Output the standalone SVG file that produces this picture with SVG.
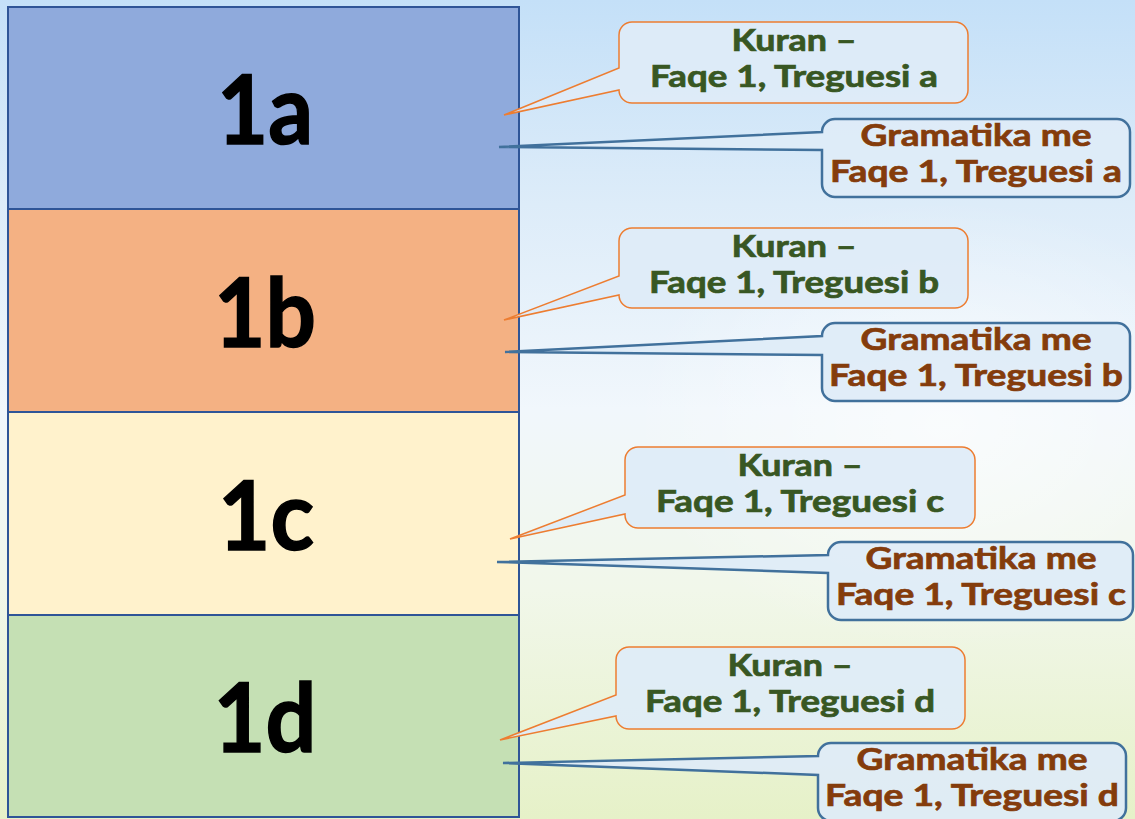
<svg xmlns="http://www.w3.org/2000/svg" width="1135" height="819" viewBox="0 0 1135 819">
<defs>
<linearGradient id="bg" x1="0" y1="0" x2="0" y2="1">
<stop offset="0" stop-color="#C4E0F8"/>
<stop offset="0.25" stop-color="#DDECF9"/>
<stop offset="0.5" stop-color="#F1F7FC"/>
<stop offset="0.72" stop-color="#F1F7EA"/>
<stop offset="1" stop-color="#E6F1C8"/>
</linearGradient>
<radialGradient id="glow" cx="0.7" cy="0.5" r="0.5">
<stop offset="0" stop-color="#FFFFFF" stop-opacity="0.6"/>
<stop offset="1" stop-color="#FFFFFF" stop-opacity="0"/>
</radialGradient>
</defs>
<style>
.sec{stroke:#2F5597;stroke-width:2}
.big{font-family:Lato,"Liberation Sans",Arial,sans-serif;font-weight:bold;font-size:96px;fill:#000;stroke:#000;stroke-width:1.5;text-anchor:middle}
.kc{fill:#DEEBF7;fill-opacity:0.92;stroke:#ED7D31;stroke-width:1.5;stroke-linejoin:miter}
.gc{fill:#DEEBF7;fill-opacity:0.92;stroke:#41719C;stroke-width:2.5;stroke-linejoin:miter}
.kt{font-family:Lato,"Liberation Sans",Arial,sans-serif;font-weight:bold;font-size:30px;fill:#385723;stroke:#385723;stroke-width:0.7;text-anchor:middle}
.gt{font-family:Lato,"Liberation Sans",Arial,sans-serif;font-weight:bold;font-size:30px;fill:#843C0C;stroke:#843C0C;stroke-width:0.7;text-anchor:middle}
</style>
<rect x="0" y="0" width="1135" height="819" fill="url(#bg)"/>
<rect x="500" y="200" width="635" height="450" fill="url(#glow)"/>

<g id="panel">
<g id="node-1a">
<rect class="sec" x="8" y="7" width="511" height="202" fill="#8FAADC"/>
<text class="big" x="265" y="144" textLength="96" lengthAdjust="spacingAndGlyphs">1a</text>
</g>
<g id="node-1b">
<rect class="sec" x="8" y="209" width="511" height="203" fill="#F4B183"/>
<text class="big" x="265" y="347" textLength="102" lengthAdjust="spacingAndGlyphs">1b</text>
</g>
<g id="node-1c">
<rect class="sec" x="8" y="412" width="511" height="203" fill="#FFF2CC"/>
<text class="big" x="266" y="550" textLength="96" lengthAdjust="spacingAndGlyphs">1c</text>
</g>
<g id="node-1d">
<rect class="sec" x="8" y="615" width="511" height="202" fill="#C5E0B4"/>
<text class="big" x="265" y="752" textLength="103" lengthAdjust="spacingAndGlyphs">1d</text>
</g>
</g>

<g id="connectors">
<path class="kc" d="M632,22 H955 A13,13 0 0 1 968,35 V90 A13,13 0 0 1 955,103 H632 A13,13 0 0 1 619,90 L504,115 L619,68 V35 A13,13 0 0 1 632,22 Z"/>
<path class="gc" d="M835,119 H1117 A13,13 0 0 1 1130,132 V184 A13,13 0 0 1 1117,197 H835 A13,13 0 0 1 822,184 V150 L499,147 L822,132 A13,13 0 0 1 835,119 Z"/>
<path class="kc" d="M632,228 H955 A13,13 0 0 1 968,241 V295 A13,13 0 0 1 955,308 H632 A13,13 0 0 1 619,295 L504,320 L619,276 V241 A13,13 0 0 1 632,228 Z"/>
<path class="gc" d="M835,323 H1117 A13,13 0 0 1 1130,336 V388 A13,13 0 0 1 1117,401 H835 A13,13 0 0 1 822,388 V355 L505,352 L822,336 A13,13 0 0 1 835,323 Z"/>
<path class="kc" d="M638,447 H962 A13,13 0 0 1 975,460 V515 A13,13 0 0 1 962,528 H638 A13,13 0 0 1 625,515 V514 L510,539 L625,495 V460 A13,13 0 0 1 638,447 Z"/>
<path class="gc" d="M841,542 H1120 A13,13 0 0 1 1133,555 V607 A13,13 0 0 1 1120,620 H841 A13,13 0 0 1 828,607 V573 L497,562 L828,555 A13,13 0 0 1 841,542 Z"/>
<path class="kc" d="M629,647 H952 A13,13 0 0 1 965,660 V716 A13,13 0 0 1 952,729 H629 A13,13 0 0 1 616,716 L500,740 L616,695 V660 A13,13 0 0 1 629,647 Z"/>
<path class="gc" d="M831,743 H1113 A13,13 0 0 1 1126,756 V808 A13,13 0 0 1 1113,821 H831 A13,13 0 0 1 818,808 V775 L503,763 L818,756 A13,13 0 0 1 831,743 Z"/>
</g>

<g id="callout-kuran-a">
<text class="kt" x="794" y="51" textLength="125" lengthAdjust="spacingAndGlyphs">Kuran –</text>
<text class="kt" x="794" y="87" textLength="288" lengthAdjust="spacingAndGlyphs">Faqe 1, Treguesi a</text>
</g>
<g id="callout-gramatika-a">
<text class="gt" x="976" y="146" textLength="231" lengthAdjust="spacingAndGlyphs">Gramatika me</text>
<text class="gt" x="976" y="182" textLength="292" lengthAdjust="spacingAndGlyphs">Faqe 1, Treguesi a</text>
</g>
<g id="callout-kuran-b">
<text class="kt" x="794" y="257" textLength="125" lengthAdjust="spacingAndGlyphs">Kuran –</text>
<text class="kt" x="794" y="293" textLength="290" lengthAdjust="spacingAndGlyphs">Faqe 1, Treguesi b</text>
</g>
<g id="callout-gramatika-b">
<text class="gt" x="976" y="350" textLength="231" lengthAdjust="spacingAndGlyphs">Gramatika me</text>
<text class="gt" x="976" y="386" textLength="294" lengthAdjust="spacingAndGlyphs">Faqe 1, Treguesi b</text>
</g>
<g id="callout-kuran-c">
<text class="kt" x="800" y="476" textLength="125" lengthAdjust="spacingAndGlyphs">Kuran –</text>
<text class="kt" x="800" y="512" textLength="288" lengthAdjust="spacingAndGlyphs">Faqe 1, Treguesi c</text>
</g>
<g id="callout-gramatika-c">
<text class="gt" x="981" y="569" textLength="231" lengthAdjust="spacingAndGlyphs">Gramatika me</text>
<text class="gt" x="981" y="605" textLength="290" lengthAdjust="spacingAndGlyphs">Faqe 1, Treguesi c</text>
</g>
<g id="callout-kuran-d">
<text class="kt" x="790" y="676" textLength="125" lengthAdjust="spacingAndGlyphs">Kuran –</text>
<text class="kt" x="790" y="712" textLength="290" lengthAdjust="spacingAndGlyphs">Faqe 1, Treguesi d</text>
</g>
<g id="callout-gramatika-d">
<text class="gt" x="972" y="770" textLength="231" lengthAdjust="spacingAndGlyphs">Gramatika me</text>
<text class="gt" x="972" y="806" textLength="294" lengthAdjust="spacingAndGlyphs">Faqe 1, Treguesi d</text>
</g>
</svg>
